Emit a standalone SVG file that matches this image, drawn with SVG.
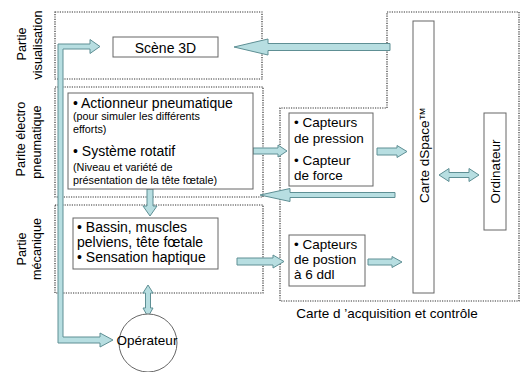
<svg xmlns="http://www.w3.org/2000/svg" width="521" height="372" viewBox="0 0 521 372">
<style>
.dot{fill:none;stroke:#333;stroke-width:1.2;stroke-dasharray:1.2 1.2}
.box{fill:#fff;stroke:#666;stroke-width:1}
.arr{fill:#b7dee1;stroke:#5e8f94;stroke-width:1;stroke-linejoin:miter}
text{font-family:"Liberation Sans",Arial,sans-serif;font-size:13.5px;fill:#000}
.big{font-size:14px}
.sm{font-size:10.8px}
.side{font-size:12.7px}
.c{text-anchor:middle}
</style>
<rect width="521" height="372" fill="#fff"/>
<g id="zones">
<rect id="zone-visu" class="dot" x="55" y="12" width="207" height="67"/>
<rect id="zone-electro" class="dot" x="55" y="87" width="208" height="110"/>
<rect id="zone-meca" class="dot" x="55" y="205" width="208" height="88"/>
<path id="zone-acq" class="dot" d="M387,12 H519 V301 H280 V108 H387 Z"/>
</g>
<g id="labels">
<text class="c side" transform="translate(26,44) rotate(-90)">Partie</text>
<text class="c side" transform="translate(42,45) rotate(-90)">visualisation</text>
<text class="c side" transform="translate(25,139) rotate(-90)">Parite électro</text>
<text class="c side" transform="translate(41,142) rotate(-90)">pneumatique</text>
<text class="c side" transform="translate(26,249) rotate(-90)">Partie</text>
<text class="c side" transform="translate(41,249) rotate(-90)">mécanique</text>
<text class="c" x="387" y="318">Carte d ’acquisition et contrôle</text>
</g>
<g id="connectors">
<polygon class="arr" points="58,44 90,44 90,39.5 100,46.5 90,53.5 90,49 63,49 63,337 100,337 100,333 113,340 100,347 100,343 58,343"/>
<polygon class="arr" points="390,43.5 268,43.5 268,39 234,47 268,55 268,50.5 390,50.5"/>
<polygon class="arr" points="395,192.5 290,192.5 290,188.5 260,195 290,201.5 290,197.5 395,197.5"/>
<polygon class="arr" points="253,148 278,148 278,145 287,151 278,157 278,154 253,154"/>
<polygon class="arr" points="377,148 397,148 397,145.5 407,151.5 397,157.5 397,155 377,155"/>
<polygon class="arr" points="368,259 392,259 392,256.5 402,262 392,267.5 392,265 368,265"/>
<polygon class="arr" points="237,258 273,258 273,255 284,261.5 273,268 273,265 237,265"/>
<polygon class="arr" points="147,189 153,189 153,206 157,206 150,216 143,206 147,206"/>
<polygon class="arr" points="148,285 153,293 150.5,293 150.5,308 153,308 148,317 143,308 145.5,308 145.5,293 143,293"/>
<polygon class="arr" points="439,175 449,168.5 449,172.5 469,172.5 469,168.5 479,175 469,181.5 469,177.5 449,177.5 449,181.5"/>
</g>
<g id="scene3d">
<rect class="box" x="113" y="37" width="105" height="20"/>
<text class="c big" x="165.5" y="53">Scène 3D</text>
</g>
<g id="electro">
<rect class="box" x="68" y="93" width="185" height="96"/>
<text class="big" x="73" y="108">• Actionneur pneumatique</text>
<text class="sm" x="73" y="120">(pour simuler les différents</text>
<text class="sm" x="73" y="133">efforts)</text>
<text class="big" x="73" y="156">• Système rotatif</text>
<text class="sm" x="73" y="171">(Niveau et variété de</text>
<text class="sm" x="73" y="184">présentation de la tête fœtale)</text>
</g>
<g id="meca">
<rect class="box" x="73" y="218" width="145" height="51"/>
<text class="big" x="77" y="232">• Bassin, muscles</text>
<text class="big" x="77" y="247">pelviens, tête fœtale</text>
<text class="big" x="77" y="262">• Sensation haptique</text>
</g>
<g id="capteurs1">
<rect class="box" x="289" y="113" width="84" height="73"/>
<text x="294" y="127">• Capteurs</text>
<text x="294" y="143">de pression</text>
<text x="294" y="165">• Capteur</text>
<text x="294" y="180">de force</text>
</g>
<g id="capteurs2">
<rect class="box" x="289" y="235" width="76" height="51"/>
<text x="294" y="249">• Capteurs</text>
<text x="294" y="264">de postion</text>
<text x="294" y="279">à 6 ddl</text>
</g>
<g id="dspace">
<rect class="box" x="413" y="21" width="21" height="272"/>
<text class="c" transform="translate(429,155) rotate(-90)">Carte dSpace™</text>
</g>
<g id="ordinateur">
<rect class="box" x="484" y="113" width="22" height="117"/>
<text class="c" transform="translate(500,171.5) rotate(-90)">Ordinateur</text>
</g>
<g id="operateur">
<circle class="box" cx="148" cy="343" r="29"/>
<text class="c" x="147" y="345">Opérateur</text>
</g>
</svg>
